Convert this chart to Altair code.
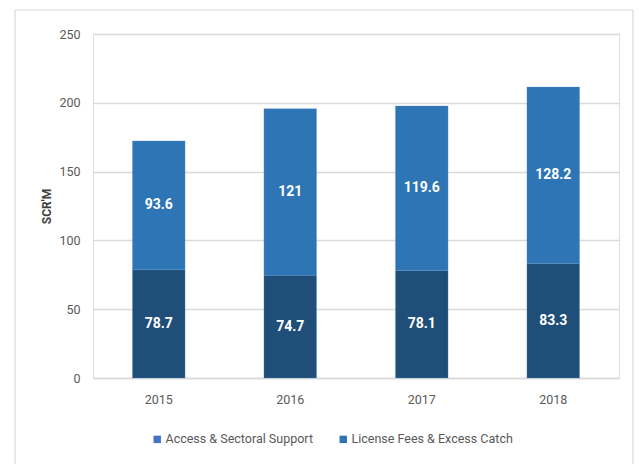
import altair as alt
import pandas as pd

years = ["2015", "2016", "2017", "2018"]
access = [78.7, 74.7, 78.1, 83.3]
license_fees = [93.6, 121, 119.6, 128.2]
series = ["Access & Sectoral Support", "License Fees & Excess Catch"]

rows = []
for i, y in enumerate(years):
    rows.append({"year": y, "series": series[0], "value": access[i], "order": 0})
    rows.append({"year": y, "series": series[1], "value": license_fees[i], "order": 1})
df = pd.DataFrame(rows)

FONT = "Roboto"
W, H = 526, 344
yscale = alt.Scale(domain=[0, 250], nice=False, zero=True)

base = alt.Chart(df).transform_stack(
    stack="value", groupby=["year"], as_=["v0", "v1"],
    sort=[alt.SortField("order", order="ascending")]
).transform_calculate(mid="(datum.v0 + datum.v1) / 2")

x_enc = alt.X("year:N", sort=years, title=None,
              scale=alt.Scale(paddingInner=0.6, paddingOuter=0.3),
              axis=alt.Axis(labelAngle=0, labelFont=FONT, labelFontSize=12.5,
                            labelColor="#595959", labelPadding=15, ticks=False,
                            domain=True, domainColor="#d9d9d9", domainWidth=1.5))

bars = base.mark_bar(stroke="#5b8fc7", strokeWidth=0.6, strokeOpacity=0.5).encode(
    x=x_enc,
    y=alt.Y("v0:Q", title="SCR'M", scale=yscale,
            axis=alt.Axis(values=[0, 50, 100, 150, 200, 250], labelFont=FONT,
                          labelFontSize=12.5, labelColor="#595959", labelPadding=13,
                          ticks=False, domain=False, grid=True, gridColor="#d9d9d9",
                          gridWidth=1.5, titleFont=FONT, titleFontSize=12,
                          titleFontWeight="bold", titleColor="#404040",
                          titleX=-47, titleY=H / 2, titleBaseline="middle")),
    y2="v1:Q",
    fill=alt.Fill("series:N", scale=alt.Scale(domain=series, range=["#1f4e79", "#2e75b6"]),
                  legend=None),
)

labels = base.mark_text(color="white", font=FONT, fontWeight="bold", fontSize=14).encode(
    x=alt.X("year:N", sort=years),
    y=alt.Y("mid:Q", scale=yscale),
    text=alt.Text("value:Q"),
)

legend_layer = alt.Chart(df).mark_square(opacity=0, size=1).encode(
    x=alt.X("year:N", sort=years),
    y=alt.Y("value:Q", scale=yscale),
    color=alt.Color("series:N",
                    scale=alt.Scale(domain=series, range=["#4472c4", "#2e75b6"]),
                    legend=alt.Legend(title=None, orient="none", direction="horizontal",
                                      legendX=58, legendY=399, symbolType="square",
                                      symbolSize=55, symbolOpacity=1, symbolStrokeWidth=0,
                                      labelFont=FONT, labelFontSize=12.5, labelLimit=400,
                                      labelColor="#595959", columnPadding=24,
                                      labelOffset=2)),
)

frame_top = alt.Chart(pd.DataFrame({"k": [0]})).mark_rule(color="#d9d9d9", strokeWidth=1.2).encode(
    x=alt.value(-78), x2=alt.value(540), y=alt.value(-24))
frame_left = alt.Chart(pd.DataFrame({"k": [0]})).mark_rule(color="#d9d9d9", strokeWidth=1.2).encode(
    x=alt.value(-78), y=alt.value(-24), y2=alt.value(440))
frame_right = alt.Chart(pd.DataFrame({"k": [0]})).mark_rule(color="#d9d9d9", strokeWidth=1.2).encode(
    x=alt.value(540), y=alt.value(-24), y2=alt.value(440))

chart = alt.layer(bars, labels, legend_layer, frame_top, frame_left, frame_right).resolve_scale(
    fill="independent", color="independent"
).properties(
    width=W, height=H,
    autosize=alt.AutoSizeParams(type="none"),
    padding={"left": 93, "top": 34, "right": 20, "bottom": 86},
).configure_view(stroke=None).configure(background="white")

chart.save("out.html", embed_options={"renderer": "svg", "actions": False})
